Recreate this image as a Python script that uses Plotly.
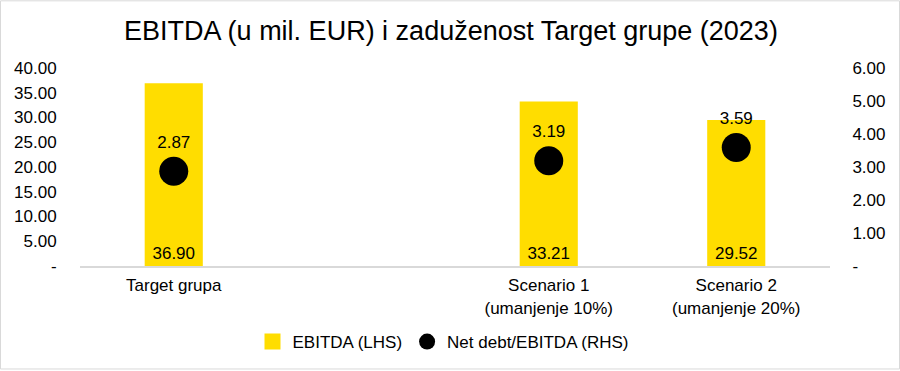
import plotly.graph_objects as go

categories = ["Target grupa", " ", "Scenario 1<br>(umanjenje 10%)", "Scenario 2<br>(umanjenje 20%)"]
ebitda = [36.90, None, 33.21, 29.52]
ratio = [2.87, None, 3.19, 3.59]
left_ticks = [0, 5, 10, 15, 20, 25, 30, 35, 40]
left_labels = ["-", "5.00", "10.00", "15.00", "20.00", "25.00", "30.00", "35.00", "40.00"]
right_ticks = [0, 1, 2, 3, 4, 5, 6]
right_labels = ["-", "1.00", "2.00", "3.00", "4.00", "5.00", "6.00"]

font = "Liberation Sans, Arial, sans-serif"
yellow = "#FFDD00"

fig = go.Figure()
fig.add_trace(go.Bar(
    x=categories, y=ebitda, name="EBITDA (LHS)", showlegend=False,
    marker=dict(color=yellow, line=dict(width=0)),
    text=[f"{v:.2f}" if v is not None else "" for v in ebitda],
    textposition="inside", insidetextanchor="start",
    textfont=dict(family=font, size=17, color="#000000"),
    yaxis="y",
))
# legend entry for the bars (square swatch)
fig.add_trace(go.Scatter(
    x=[None], y=[None], name="EBITDA (LHS)", mode="markers",
    marker=dict(color=yellow, symbol="square", size=18, line=dict(width=0)),
    yaxis="y",
))
fig.add_trace(go.Scatter(
    x=categories, y=ratio, name="Net debt/EBITDA (RHS)",
    mode="markers+text",
    marker=dict(color="#000000", size=29, line=dict(width=0)),
    text=[f"{v:.2f}" if v is not None else "" for v in ratio],
    textposition="top center",
    textfont=dict(family=font, size=17, color="#000000"),
    yaxis="y2",
))

W, H = 900, 371
ml, mr, mt, mb = 80, 70, 68, 104
pw, ph = W - ml - mr, H - mt - mb

fig.update_layout(
    width=W, height=H,
    margin=dict(l=ml, r=mr, t=mt, b=mb, pad=0),
    paper_bgcolor="white", plot_bgcolor="white",
    font=dict(family=font, size=17, color="#000000"),
    title=dict(text="EBITDA (u mil. EUR) i zaduženost Target grupe (2023)",
               x=451 / W, xanchor="center", y=1 - 31 / H, yanchor="middle",
               font=dict(family=font, size=27, color="#000000")),
    bargap=0.69,
    showlegend=True,
    legend=dict(orientation="h", x=(443 - ml) / pw, xanchor="center",
                y=-(342 - (H - mb)) / ph, yanchor="middle",
                font=dict(family=font, size=17, color="#000000"),
                itemsizing="trace", traceorder="normal"),
    xaxis=dict(type="category", range=[-0.5, 3.5], showgrid=False,
               showline=True, linecolor="#d9d9d9", linewidth=2,
               ticks="", ticklabelstandoff=3,
               tickfont=dict(family=font, size=17, color="#000000"),
               fixedrange=True),
    yaxis=dict(range=[0, 40], tickvals=left_ticks, ticktext=left_labels,
               showgrid=False, zeroline=False, showline=False, ticks="outside",
               ticklen=19, tickcolor="rgba(0,0,0,0)",
               tickfont=dict(family=font, size=17, color="#000000")),
    yaxis2=dict(range=[0, 6], tickvals=right_ticks, ticktext=right_labels,
                overlaying="y", side="right", showgrid=False, zeroline=False,
                showline=False, ticks="outside", ticklen=18, tickcolor="rgba(0,0,0,0)",
                tickfont=dict(family=font, size=17, color="#000000")),
    shapes=[dict(type="rect", xref="paper", yref="paper",
                 x0=(0.5 - ml) / pw, x1=(W - 0.5 - ml) / pw,
                 y0=-(mb - 0.5) / ph, y1=(H - 0.5 - mb) / ph,
                 line=dict(color="#d9d9d9", width=1), layer="below")],
)

fig.write_html("out.html", config={"displayModeBar": False},
               post_script="document.body.style.margin='0';document.body.style.overflow='hidden';")
